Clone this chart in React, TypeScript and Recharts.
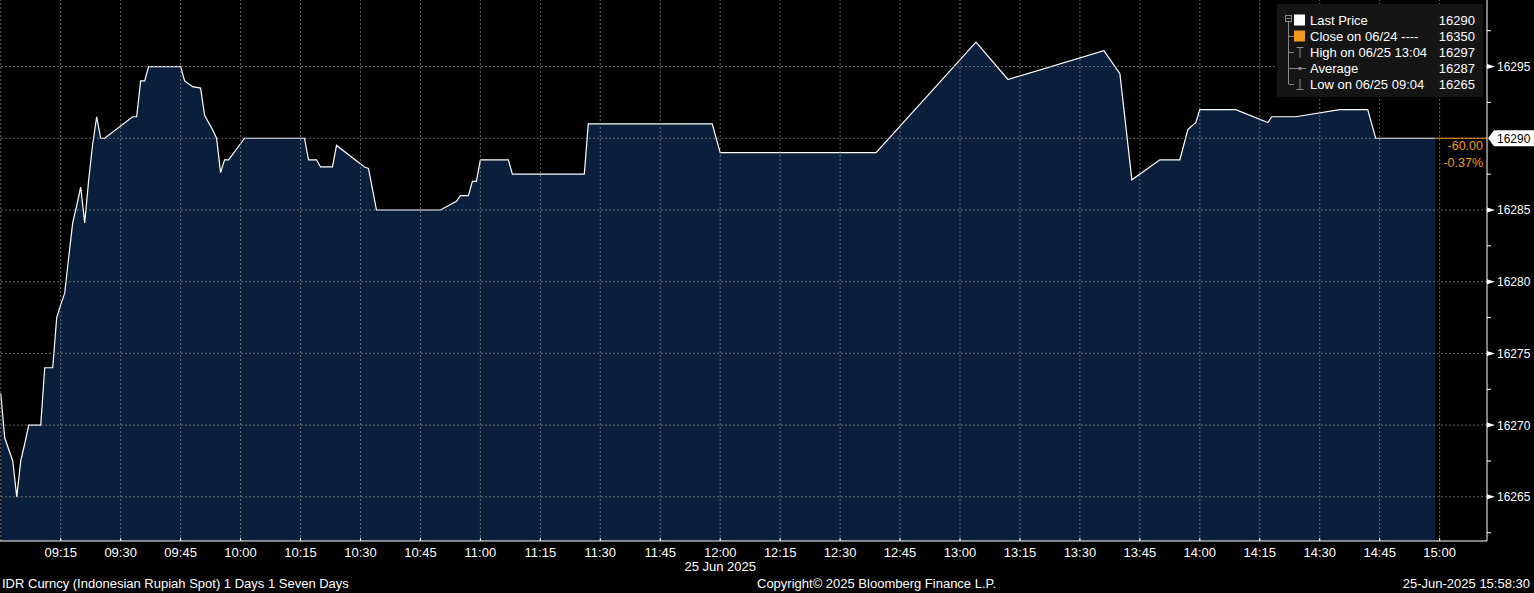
import React from 'react';
import { AreaChart, Area, XAxis, YAxis, ReferenceLine } from 'recharts';

// minutes after 09:00 on 25 Jun 2025, and IDR spot price at that minute
const minutes = [
  0, 1, 3, 4, 5, 6, 7, 10, 11, 13, 14, 15, 16, 17, 18, 19, 20, 21, 22, 23, 24, 25, 26,
  33, 34, 35, 36, 37, 45, 46, 48, 50, 51, 53, 54, 55, 56, 57, 61, 76, 77, 79, 80, 83,
  84, 91, 92, 94, 110, 114, 115, 117, 118, 119, 120, 127, 128, 146, 147, 178, 180, 219,
  244, 252, 276, 280, 283, 290, 295, 297, 299, 300, 309, 317, 318, 324, 335, 342, 344, 359,
];
const prices = [
  16272.2, 16269.1, 16267.5, 16265, 16267.5, 16268.7, 16270, 16270, 16274, 16274, 16277.5,
  16278.4, 16279.2, 16281.7, 16284.1, 16285.3, 16286.6, 16284.1, 16287.1, 16289.6, 16291.5,
  16290, 16290, 16291.5, 16291.5, 16294, 16294, 16295, 16295, 16294, 16293.6, 16293.5,
  16291.6, 16290.6, 16290, 16287.6, 16288.5, 16288.5, 16290, 16290, 16288.5, 16288.5, 16288,
  16288, 16289.5, 16288, 16287.9, 16285, 16285, 16285.6, 16286, 16286, 16287, 16287, 16288.5,
  16288.5, 16287.5, 16287.5, 16291, 16291, 16289, 16289, 16296.7, 16294.1, 16296.1, 16294.5,
  16287.1, 16288.5, 16288.5, 16290.6, 16291.1, 16292, 16292, 16291.1, 16291.5, 16291.5, 16292,
  16292, 16290, 16290,
];

const timeTicks = [15, 30, 45, 60, 75, 90, 105, 120, 135, 150, 165, 180, 195, 210, 225, 240, 255, 270, 285, 300, 315, 330, 345, 360];
const timeLabels = [
  '09:15', '09:30', '09:45', '10:00', '10:15', '10:30', '10:45', '11:00', '11:15', '11:30', '11:45', '12:00',
  '12:15', '12:30', '12:45', '13:00', '13:15', '13:30', '13:45', '14:00', '14:15', '14:30', '14:45', '15:00',
];
const gridMinutes = [0, ...timeTicks];
const majorPrices = [16265, 16270, 16275, 16280, 16285, 16290, 16295];
const minorPrices = [16262.5, 16267.5, 16272.5, 16277.5, 16282.5, 16287.5, 16292.5, 16297.5];

const lastPrice = 16290;
const prevClose = 16350;
const highPrice = 16297;
const avgPrice = 16287;
const lowPrice = 16265;
const dateTick = 180;
const dateLabel = '25 Jun 2025';

const data = minutes.map((t, i) => ({ t, price: prices[i] }));
const lastMinute = minutes[minutes.length - 1];
const xDomain: [number, number] = [-0.19, 371.85];
const yDomain: [number, number] = [16261.92, 16299.64];

const change = lastPrice - prevClose;
const changePct = (change / prevClose) * 100;

const ORANGE = '#f39a1e';
const FONT = '"Liberation Sans", Arial, sans-serif';

const TimeTick = (props: any) => {
  const { x, y, payload } = props;
  const label = timeLabels[timeTicks.indexOf(payload.value)];
  return (
    <g>
      <line x1={x} x2={x} y1={y - 3} y2={y} stroke="#fff" />
      <text x={x} y={y + 16} textAnchor="middle" fill="#fff" fontSize={13}>
        {label}
      </text>
      {payload.value === dateTick && (
        <text x={x} y={y + 30} textAnchor="middle" fill="#fff" fontSize={13}>
          {dateLabel}
        </text>
      )}
    </g>
  );
};

const PriceTick = (props: any) => {
  const { x, y, payload } = props;
  const v = payload.value;
  if (v === lastPrice) {
    return (
      <g>
        <polygon
          points={`${x + 1},${y} ${x + 7},${y - 8} ${x + 48},${y - 8} ${x + 48},${y + 8} ${x + 7},${y + 8}`}
          fill="#fff"
        />
        <text x={x + 10} y={y + 4.5} fill="#000" fontSize={12}>
          {v}
        </text>
      </g>
    );
  }
  if (majorPrices.includes(v)) {
    return (
      <g>
        <path d={`M${x},${y - 2.5} L${x + 8},${y} L${x},${y + 2.5} Z`} fill="#fff" />
        <text x={x + 10} y={y + 4.5} fill="#fff" fontSize={12}>
          {v}
        </text>
      </g>
    );
  }
  return <line x1={x} x2={x + 4} y1={y} y2={y} stroke="#fff" />;
};

const legendRows = [
  { label: 'Last Price', value: lastPrice },
  { label: 'Close on 06/24 ----', value: prevClose },
  { label: 'High on 06/25 13:04', value: highPrice },
  { label: 'Average', value: avgPrice },
  { label: 'Low on 06/25 09:04', value: lowPrice },
];

const LegendBox = () => (
  <svg
    width={206}
    height={93}
    style={{ position: 'absolute', left: 1277, top: 4 }}
  >
    <rect width={206} height={93} fill="#151515" />
    <rect x={8.5} y={11.5} width={6} height={6} fill="none" stroke="#888" />
    <line x1={9.5} x2={13.5} y1={14.5} y2={14.5} stroke="#888" />
    <line x1={11.5} x2={11.5} y1={18} y2={80} stroke="#888" />
    {[32, 48, 64, 80].map((yy) => (
      <line key={yy} x1={11.5} x2={17} y1={yy + 0.5} y2={yy + 0.5} stroke="#888" />
    ))}
    <rect x={17} y={10.5} width={11} height={11} fill="#fff" />
    <rect x={17} y={26.5} width={11} height={11} fill={ORANGE} />
    <path d="M19.5,43.5 H26.5 M23,43.5 V53.5" stroke="#888" fill="none" />
    <path d="M17,64.5 H29" stroke="#888" />
    <circle cx={23} cy={64.5} r={1.8} fill="#888" />
    <path d="M23,75 V85.5 M19.5,85.5 H26.5" stroke="#888" fill="none" />
    {legendRows.map((r, i) => (
      <g key={r.label}>
        <text x={33} y={16 + i * 16 + 4.5} fill="#fff" fontSize={13}>
          {r.label}
        </text>
        <text x={198} y={16 + i * 16 + 4.5} fill="#fff" fontSize={13} textAnchor="end">
          {r.value}
        </text>
      </g>
    ))}
  </svg>
);

export default function App() {
  return (
    <div
      style={{
        position: 'absolute',
        left: 0,
        top: 0,
        width: 1534,
        height: 593,
        background: '#000',
        fontFamily: FONT,
        overflow: 'hidden',
      }}
    >
      <AreaChart width={1534} height={593} data={data} margin={{ top: 0, right: 0, bottom: 0, left: 0 }}>
        <XAxis
          dataKey="t"
          type="number"
          domain={xDomain}
          allowDataOverflow
          ticks={timeTicks}
          interval={0}
          tick={<TimeTick />}
          tickLine={false}
          tickSize={0}
          tickMargin={0}
          height={52}
          axisLine={{ stroke: '#fff' }}
        />
        <YAxis
          orientation="right"
          type="number"
          domain={yDomain}
          allowDataOverflow
          ticks={[...minorPrices, ...majorPrices].sort((a, b) => a - b)}
          interval={0}
          tick={<PriceTick />}
          tickLine={false}
          tickSize={0}
          tickMargin={0}
          width={47}
          axisLine={{ stroke: '#fff' }}
        />
        <Area
          type="linear"
          dataKey="price"
          stroke="#fff"
          strokeWidth={1.2}
          fill="#0a1f3c"
          fillOpacity={1}
          dot={false}
          activeDot={false}
          isAnimationActive={false}
        />
        {gridMinutes.map((m) => (
          <ReferenceLine key={`gx${m}`} x={m} stroke="#8a8a8a" strokeOpacity={0.75} strokeDasharray="2 2" />
        ))}
        {majorPrices.map((p) => (
          <ReferenceLine key={`gy${p}`} y={p} stroke="#8a8a8a" strokeOpacity={0.75} strokeDasharray="2 2" />
        ))}
        <ReferenceLine
          segment={[
            { x: lastMinute, y: lastPrice },
            { x: xDomain[1], y: lastPrice },
          ]}
          stroke={ORANGE}
        />
      </AreaChart>

      <LegendBox />

      <div style={{ position: 'absolute', right: 51, top: 138, color: ORANGE, fontSize: 12.5, textAlign: 'right', lineHeight: '17px' }}>
        <div>{change.toFixed(2)}</div>
        <div>{changePct.toFixed(2)}%</div>
      </div>

      <div style={{ position: 'absolute', left: 2, top: 576, color: '#fff', fontSize: 13, whiteSpace: 'nowrap' }}>
        IDR Curncy (Indonesian Rupiah Spot) 1 Days 1 Seven Days
      </div>
      <div style={{ position: 'absolute', left: 757, top: 576, color: '#fff', fontSize: 13, whiteSpace: 'nowrap' }}>
        Copyright© 2025 Bloomberg Finance L.P.
      </div>
      <div style={{ position: 'absolute', right: 4, top: 576, color: '#fff', fontSize: 13, whiteSpace: 'nowrap' }}>
        25-Jun-2025 15:58:30
      </div>
    </div>
  );
}
